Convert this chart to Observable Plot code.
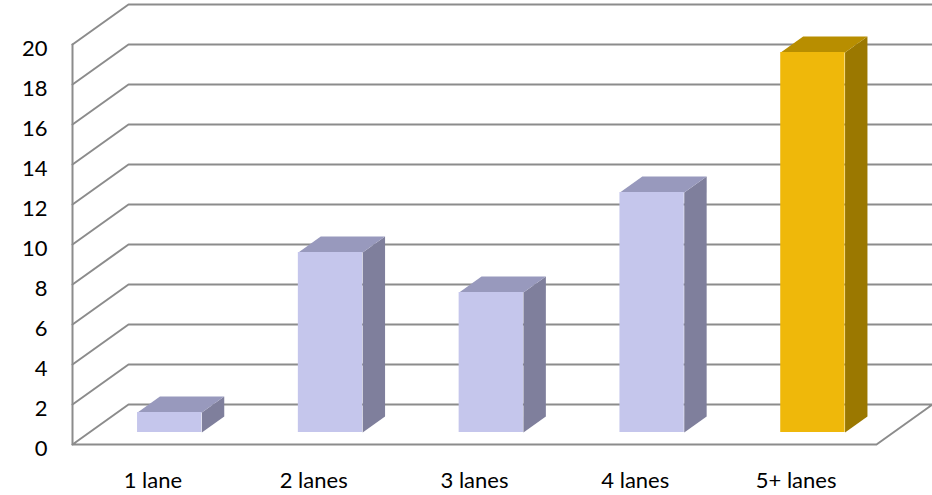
<!DOCTYPE html>
<html>
<head>
<meta charset="utf-8">
<script src="https://cdn.jsdelivr.net/npm/d3@7"></script>
<script src="https://cdn.jsdelivr.net/npm/@observablehq/plot@0.6"></script>
<style>
  html, body { margin: 0; padding: 0; background: #fff; }
  #chart svg { display: block; }
</style>
</head>
<body>
<div id="chart"></div>
<script>
// Lane counts and their values
const categories = ["1 lane", "2 lanes", "3 lanes", "4 lanes", "5+ lanes"];
const values = [1, 9, 7, 12, 19];
const highlighted = [false, false, false, false, true];
const yTicks = [0, 2, 4, 6, 8, 10, 12, 14, 16, 18, 20];

// Face colours for the plain and highlighted columns
const palette = {
  plain: {front: "#c5c6ec", top: "#9899bd", side: "#7f7f9c"},
  gold:  {front: "#efb80a", top: "#b88e00", side: "#9b7800"}
};

// Oblique projection: one unit of depth shifts by DX category slots and DY value units
const n = categories.length;
const DX = 56 / 160.8;
const DY = 2;
const P = (slot, value, depth) => ({x: slot + depth * DX, y: value + depth * DY});

// Column footprint inside its slot (slot units) and along the depth axis
const BAR0 = 0.3, BAR1 = 0.7, D0 = 0.3, D1 = 0.7;

// Back wall / left wall grid lines
const grid = [];
yTicks.filter(v => v > 0).forEach(v => {
  [P(0, v, 0), P(0, v, 1), P(n, v, 1)].forEach(p => grid.push({...p, g: v}));
});
// Floor outline
const floor = [P(0, 0, 0), P(n, 0, 0), P(n, 0, 1), P(0, 0, 1), P(0, 0, 0)];
// Left front edge
const edge = [P(0, 0, 0), P(0, yTicks[yTicks.length - 1], 0)];

const bars = categories.map((c, i) => ({i, c, v: values[i], col: highlighted[i] ? palette.gold : palette.plain}));

const barMarks = bars.flatMap(b => {
  const a = b.i + BAR0, e = b.i + BAR1;
  const top = [P(a, b.v, D0), P(e, b.v, D0), P(e, b.v, D1), P(a, b.v, D1)];
  const side = [P(e, 0, D0), P(e, b.v, D0), P(e, b.v, D1), P(e, 0, D1)];
  const f0 = P(a, 0, D0), f1 = P(e, b.v, D0);
  return [
    Plot.line(side, {x: "x", y: "y", fill: b.col.side, stroke: "none"}),
    Plot.line(top, {x: "x", y: "y", fill: b.col.top, stroke: "none"}),
    Plot.rect([b], {x1: () => f0.x, x2: () => f1.x, y1: () => f0.y, y2: () => f1.y, fill: b.col.front})
  ];
});

const chart = Plot.plot({
  width: 932,
  height: 495,
  margin: 0,
  style: {fontFamily: "Lato, 'Open Sans', sans-serif", background: "#fff", color: "#000"},
  x: {type: "linear", domain: [0, n], range: [72, 876], axis: null},
  y: {type: "linear", domain: [0, 20], range: [444, 44], axis: null},
  marks: [
    Plot.line(grid, {x: "x", y: "y", z: "g", stroke: "#8c8c8c", strokeWidth: 2}),
    Plot.line(floor, {x: "x", y: "y", stroke: "#8c8c8c", strokeWidth: 2}),
    Plot.line(edge, {x: "x", y: "y", stroke: "#8c8c8c", strokeWidth: 2}),
    ...barMarks,
    Plot.text(yTicks, {x: () => 0, y: d => d, text: d => String(d), textAnchor: "end", dx: -25, dy: 4, fontSize: 22, fill: "#000"}),
    Plot.text(categories, {x: (d, i) => i + 0.5, y: () => 0, text: d => d, dy: 36, fontSize: 22, fill: "#000"})
  ]
});

document.getElementById("chart").appendChild(chart);
</script>
</body>
</html>
